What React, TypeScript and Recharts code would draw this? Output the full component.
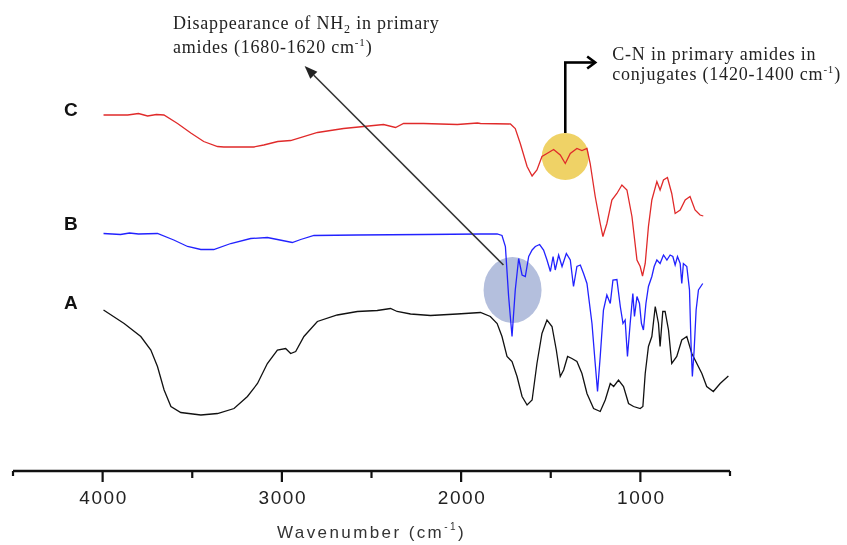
import React from 'react';
import { LineChart, Line, XAxis, YAxis, ReferenceDot, ReferenceLine, Label } from 'recharts';

// ---- Spectrum C (red) ----
const cWavenumber = [3995, 3860, 3800, 3749, 3700, 3658, 3582, 3508, 3436, 3359, 3324, 3157, 3101, 3023, 2951, 2801, 2656, 2544, 2433, 2366, 2321, 2210, 2021, 1909, 1892, 1725, 1698, 1670, 1632, 1604, 1577, 1549, 1521, 1484, 1447, 1419, 1391, 1354, 1326, 1298, 1280, 1252, 1224, 1209, 1187, 1159, 1131, 1103, 1075, 1047, 1019, 1001, 988, 973, 955, 936, 908, 890, 871, 849, 825, 806, 778, 750, 723, 695, 667, 649];
const cValues = [71.2, 71.2, 71.5, 71.0, 71.3, 71.2, 69.5, 67.6, 65.9, 64.9, 64.8, 64.8, 65.2, 65.9, 66.1, 67.7, 68.5, 68.9, 69.3, 68.7, 69.5, 69.5, 69.3, 69.6, 69.5, 69.4, 68.5, 65.5, 60.9, 59.0, 60.2, 62.9, 63.5, 64.3, 63.2, 61.5, 63.5, 64.5, 64.1, 64.5, 61.5, 54.9, 49.5, 46.9, 49.5, 54.2, 55.5, 57.2, 56.2, 50.9, 42.2, 40.9, 39.0, 41.5, 48.9, 54.2, 57.9, 56.2, 58.2, 58.7, 55.5, 51.5, 52.2, 54.2, 54.9, 52.2, 51.2, 51.0];

// ---- Spectrum B (blue) ----
const bWavenumber = [3995, 3900, 3850, 3800, 3694, 3603, 3526, 3452, 3380, 3285, 3174, 3081, 3025, 2942, 2895, 2821, 2579, 2210, 1892, 1799, 1772, 1753, 1735, 1716, 1698, 1679, 1660, 1642, 1623, 1604, 1586, 1562, 1540, 1521, 1502, 1487, 1475, 1456, 1437, 1413, 1391, 1373, 1354, 1335, 1317, 1298, 1270, 1252, 1239, 1224, 1206, 1187, 1168, 1153, 1131, 1112, 1097, 1085, 1072, 1057, 1042, 1033, 1019, 1005, 994, 983, 969, 955, 936, 923, 908, 890, 871, 852, 834, 819, 806, 793, 778, 769, 760, 741, 726, 717, 710, 700, 689, 676, 652];
const bValues = [47.5, 47.3, 47.6, 47.4, 47.5, 46.2, 44.9, 44.3, 44.3, 45.5, 46.5, 46.7, 46.3, 45.7, 46.3, 47.1, 47.2, 47.3, 47.4, 47.4, 47.1, 44.9, 34.9, 26.9, 36.2, 42.5, 39.2, 38.9, 42.9, 44.2, 44.9, 45.3, 44.2, 42.2, 39.9, 42.9, 40.2, 43.2, 40.9, 43.5, 42.2, 36.9, 40.9, 41.2, 39.5, 37.5, 29.5, 21.5, 15.9, 22.9, 32.2, 35.2, 33.5, 38.2, 38.3, 32.9, 29.5, 30.2, 22.9, 29.5, 35.5, 30.9, 34.9, 33.5, 29.5, 28.2, 33.5, 36.9, 38.9, 40.9, 42.2, 41.5, 43.2, 42.2, 43.2, 42.9, 41.2, 42.9, 41.5, 37.5, 41.5, 40.9, 36.2, 24.9, 18.9, 24.2, 32.2, 36.2, 37.5];

// ---- Spectrum A (black) ----
const aWavenumber = [3995, 3880, 3787, 3731, 3694, 3657, 3619, 3564, 3452, 3359, 3267, 3192, 3136, 3081, 3025, 2979, 2951, 2923, 2877, 2802, 2691, 2579, 2468, 2394, 2357, 2282, 2171, 2022, 1892, 1837, 1799, 1772, 1744, 1716, 1688, 1660, 1632, 1604, 1577, 1549, 1521, 1493, 1469, 1447, 1428, 1406, 1382, 1354, 1326, 1298, 1261, 1224, 1196, 1168, 1149, 1122, 1094, 1066, 1038, 1001, 986, 973, 955, 936, 917, 899, 890, 875, 862, 843, 825, 797, 769, 741, 713, 685, 657, 630, 593, 555, 509];
const aValues = [32.2, 29.5, 26.9, 24.2, 20.9, 16.2, 12.9, 11.7, 11.2, 11.5, 12.5, 14.9, 17.5, 21.5, 24.2, 24.5, 23.5, 23.9, 26.9, 29.9, 31.2, 31.9, 32.1, 32.5, 31.9, 31.4, 31.1, 31.4, 31.7, 30.9, 29.5, 26.9, 22.9, 21.9, 18.9, 14.9, 13.2, 14.2, 21.5, 27.5, 30.2, 28.9, 24.2, 18.9, 20.2, 22.9, 22.5, 21.9, 19.5, 15.5, 12.5, 11.9, 14.2, 17.5, 16.9, 18.2, 16.9, 13.5, 12.9, 12.5, 12.9, 19.5, 24.9, 26.9, 32.9, 29.5, 24.9, 31.9, 31.9, 28.2, 21.5, 22.9, 26.2, 26.9, 23.5, 21.5, 19.5, 16.9, 15.9, 17.5, 19.0];

// ---- Axis ticks ----
const xTicks = [4500, 4000, 3500, 3000, 2500, 2000, 1500, 1000, 500];
const majorTicks = [4000, 3000, 2000, 1000];

const toRows = (w: number[], v: number[]) => w.map((wn, i) => ({ wn, t: v[i] }));
const dataA = toRows(aWavenumber, aValues);
const dataB = toRows(bWavenumber, bValues);
const dataC = toRows(cWavenumber, cValues);

const SANS = '"Liberation Sans", Arial, sans-serif';
const SERIF = '"Liberation Serif", "Times New Roman", serif';

const AxisTick = (props: any) => {
  const { x, y, payload } = props;
  const v = payload.value;
  const major = majorTicks.includes(v);
  const end = v === 4500 || v === 500;
  const len = major ? 11 : end ? 5 : 7;
  return (
    <g>
      <line x1={x} y1={y} x2={x} y2={y + len} stroke="#111" strokeWidth={2.2} />
      {major && (
        <text x={x + 1} y={y + 33} textAnchor="middle" fontFamily={SANS} fontSize={19} letterSpacing={1.6} fill="#222">
          {v}
        </text>
      )}
    </g>
  );
};

const AxisTitle = (props: any) => {
  const vb = props.viewBox || { x: 0, y: 0, width: 0 };
  const cx = vb.x + vb.width / 2;
  return (
    <text x={cx} y={vb.y + 67} textAnchor="middle" fontFamily={SANS} fontSize={17} letterSpacing={2.4} fill="#333">
      <tspan>Wavenumber (cm</tspan>
      <tspan dy={-8} fontSize={10}>-1</tspan>
      <tspan dy={8}>)</tspan>
    </text>
  );
};

const seriesLabel = (txt: string) => (p: any) => (
  <text x={p.cx} y={p.cy} textAnchor="middle" fontFamily={SANS} fontWeight="bold" fontSize={19} fill="#111">
    {txt}
  </text>
);

const Note1 = (p: any) => (
  <text x={p.cx} y={p.cy} fontFamily={SERIF} fontSize={18} letterSpacing={0.8} fill="#222">
    <tspan x={p.cx}>Disappearance of NH</tspan>
    <tspan dy={4} fontSize={12}>2</tspan>
    <tspan dy={-4}> in primary</tspan>
    <tspan x={p.cx} dy={24}>amides (1680-1620 cm</tspan>
    <tspan dy={-7} fontSize={11}>-1</tspan>
    <tspan dy={7}>)</tspan>
  </text>
);

const Note2 = (p: any) => (
  <text x={p.cx} y={p.cy} fontFamily={SERIF} fontSize={18} letterSpacing={0.8} fill="#222">
    <tspan x={p.cx}>C-N in primary amides in</tspan>
    <tspan x={p.cx} dy={20}>conjugates (1420-1400 cm</tspan>
    <tspan dy={-7} fontSize={11}>-1</tspan>
    <tspan dy={7}>)</tspan>
  </text>
);

const DiagArrow = (p: any) => {
  const { x1, y1, x2, y2 } = p;
  const dx = x2 - x1;
  const dy = y2 - y1;
  const L = Math.sqrt(dx * dx + dy * dy) || 1;
  const ux = dx / L;
  const uy = dy / L;
  const hl = 13;
  const hw = 5;
  const bx = x2 - ux * hl;
  const by = y2 - uy * hl;
  const pts = `${x2},${y2} ${bx - uy * hw},${by + ux * hw} ${bx + uy * hw},${by - ux * hw}`;
  return (
    <g>
      <line x1={x1} y1={y1} x2={bx} y2={by} stroke="#333" strokeWidth={1.6} />
      <polygon points={pts} fill="#222" />
    </g>
  );
};

const ElbowStem = (p: any) => (
  <line x1={p.x1} y1={p.y1} x2={p.x2} y2={p.y2} stroke="#000" strokeWidth={2.6} />
);

const ElbowHead = (p: any) => {
  const { x1, y1, x2, y2 } = p;
  return (
    <g>
      <line x1={x1 - 1.3} y1={y1} x2={x2 - 1} y2={y2} stroke="#000" strokeWidth={2.6} />
      <polyline points={`${x2 - 8},${y2 - 6} ${x2},${y2} ${x2 - 8},${y2 + 6}`} fill="none" stroke="#000" strokeWidth={2.6} />
    </g>
  );
};

const BlueSpot = (p: any) => (
  <ellipse cx={p.cx} cy={p.cy} rx={29} ry={33} fill="#b4bfdd" style={{ mixBlendMode: 'multiply' }} />
);
const GoldSpot = (p: any) => (
  <circle cx={p.cx} cy={p.cy} r={23.5} fill="#efd266" style={{ mixBlendMode: 'multiply' }} />
);

export default function App() {
  const anyProps: any = { zIndex: -10 };
  return (
    <div style={{ position: 'absolute', left: 0, top: 0, background: '#fff' }}>
      <LineChart width={847} height={545} margin={{ top: 11, right: 117, bottom: 14, left: 13 }}>
        <XAxis
          dataKey="wn"
          type="number"
          domain={[500, 4500]}
          reversed
          allowDataOverflow
          ticks={xTicks}
          interval={0}
          tickSize={0}
          tickMargin={0}
          tickLine={false}
          tick={<AxisTick />}
          axisLine={{ stroke: '#111', strokeWidth: 2.4 }}
          height={60}
        >
          <Label content={<AxisTitle />} />
        </XAxis>
        <YAxis type="number" domain={[0, 92]} hide width={0} />

        <ReferenceDot x={1713} y={36.2} r={30} isFront={false} {...anyProps} shape={BlueSpot} />
        <ReferenceDot x={1419} y={62.9} r={23} isFront={false} {...anyProps} shape={GoldSpot} />

        <Line data={dataA} dataKey="t" type="linear" stroke="#111" strokeWidth={1.3} dot={false} isAnimationActive={false} />
        <Line data={dataB} dataKey="t" type="linear" stroke="#2222ff" strokeWidth={1.3} dot={false} isAnimationActive={false} />
        <Line data={dataC} dataKey="t" type="linear" stroke="#e02a2a" strokeWidth={1.3} dot={false} isAnimationActive={false} />

        <ReferenceLine segment={[{ x: 1764, y: 41.2 }, { x: 2873, y: 81 }]} shape={DiagArrow} ifOverflow="visible" />
        <ReferenceLine segment={[{ x: 1419, y: 67.6 }, { x: 1419, y: 81.7 }]} shape={ElbowStem} ifOverflow="visible" />
        <ReferenceLine segment={[{ x: 1419, y: 81.7 }, { x: 1252, y: 81.7 }]} shape={ElbowHead} ifOverflow="visible" />

        <ReferenceDot x={4177} y={71} r={1} shape={seriesLabel('C')} ifOverflow="visible" />
        <ReferenceDot x={4177} y={48.2} r={1} shape={seriesLabel('B')} ifOverflow="visible" />
        <ReferenceDot x={4177} y={32.4} r={1} shape={seriesLabel('A')} ifOverflow="visible" />

        <ReferenceDot x={3608} y={88.4} r={1} shape={Note1} ifOverflow="visible" />
        <ReferenceDot x={1157} y={82.3} r={1} shape={Note2} ifOverflow="visible" />
      </LineChart>
    </div>
  );
}
